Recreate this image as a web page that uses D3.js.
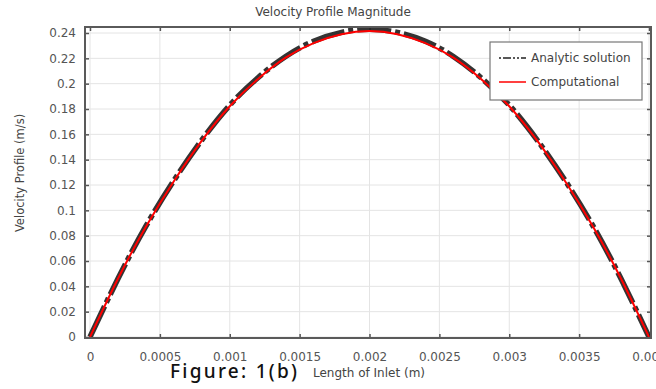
<!DOCTYPE html>
<html><head><meta charset="utf-8">
<script src="https://cdn.jsdelivr.net/npm/d3@7"></script>
<style>body{margin:0;background:#fff}svg{display:block}</style>
</head><body>
<svg id="c" width="656" height="389"></svg>
<script>
// Data
const xValues = [0,0.0002,0.0004,0.0006,0.0008,0.001,0.0012,0.0014,0.0016,0.0018,0.002,
                 0.0022,0.0024,0.0026,0.0028,0.003,0.0032,0.0034,0.0036,0.0038,0.004];
const analytic = [0,0.046,0.0875,0.1235,0.1555,0.183,0.2045,0.2215,0.2335,0.2405,0.243,
                  0.2405,0.2335,0.2215,0.2045,0.183,0.1555,0.1235,0.0875,0.046,0];
const computational = [0,0.046,0.087,0.123,0.155,0.1822,0.2035,0.2205,0.232,0.239,0.2415,
                  0.239,0.232,0.2205,0.2035,0.1822,0.155,0.123,0.087,0.046,0];
const xTicks = [0,0.0005,0.001,0.0015,0.002,0.0025,0.003,0.0035,0.004];
const xTickLabels = ["0","0.0005","0.001","0.0015","0.002","0.0025","0.003","0.0035","0.004"];
const yTicks = [0,0.02,0.04,0.06,0.08,0.1,0.12,0.14,0.16,0.18,0.2,0.22,0.24];
const yTickLabels = ["0","0.02","0.04","0.06","0.08","0.1","0.12","0.14","0.16","0.18","0.2","0.22","0.24"];
const seriesNames = ["Analytic solution","Computational"];

const svg = d3.select("#c");
const L=85, R=651, T=27, B=338;
const x = d3.scaleLinear().domain([0,0.004]).range([90,649]);
x.domain([x.invert(L), x.invert(R)]).range([L,R]);
const y = d3.scaleLinear().domain([0,0.24]).range([337,33]);
y.domain([y.invert(B), y.invert(T)]).range([B,T]);

const font = "DejaVu Sans, sans-serif";
const g = svg.append("g");

// grid
g.append("g").selectAll("line").data(xTicks).join("line")
  .attr("x1",d=>x(d)).attr("x2",d=>x(d)).attr("y1",T).attr("y2",B)
  .attr("stroke","#e4e4e4").attr("stroke-width",1);
g.append("g").selectAll("line").data(yTicks).join("line")
  .attr("y1",d=>y(d)).attr("y2",d=>y(d)).attr("x1",L).attr("x2",R)
  .attr("stroke","#e4e4e4").attr("stroke-width",1);

// axes via d3
const axStyle = sel => { sel.select(".domain").remove();
  sel.selectAll(".tick line").attr("stroke","#555").attr("stroke-width",1.5);
  sel.selectAll(".tick text").attr("fill","#555").style("font-family",font).style("font-size","12px"); };
svg.append("g").attr("transform",`translate(0,${B})`)
  .call(d3.axisBottom(x).tickValues(xTicks).tickFormat((d,i)=>xTickLabels[i]).tickSizeInner(-4).tickPadding(14))
  .call(axStyle);
svg.append("g").attr("transform",`translate(0,${T})`)
  .call(d3.axisTop(x).tickValues(xTicks).tickFormat("").tickSizeInner(-4))
  .call(axStyle);
svg.append("g").attr("transform",`translate(${L},0)`)
  .call(d3.axisLeft(y).tickValues(yTicks).tickFormat((d,i)=>yTickLabels[i]).tickSizeInner(-4).tickPadding(9))
  .call(axStyle);
svg.append("g").attr("transform",`translate(${R},0)`)
  .call(d3.axisRight(y).tickValues(yTicks).tickFormat("").tickSizeInner(-4))
  .call(axStyle);

// curves
svg.append("clipPath").attr("id","pc").append("rect")
  .attr("x",L).attr("y",T-3).attr("width",R-L).attr("height",B-T+3);
const line = vals => d3.line().x((d,i)=>x(xValues[i])).y(d=>y(d)).curve(d3.curveNatural)(vals);
svg.append("path").attr("d",line(analytic)).attr("fill","none")
  .attr("stroke","#1e1e1e").attr("stroke-width",5.5).attr("stroke-dasharray","34,4,5,4")
  .attr("opacity",0.9).attr("clip-path","url(#pc)");
svg.append("path").attr("d",line(computational)).attr("fill","none")
  .attr("stroke","#ff0000").attr("stroke-width",2).attr("clip-path","url(#pc)");

// frame
svg.append("rect").attr("x",L).attr("y",T).attr("width",R-L).attr("height",B-T)
  .attr("fill","none").attr("stroke","#5a5a5a").attr("stroke-width",2);

// legend
const lg = svg.append("g");
lg.append("rect").attr("x",490).attr("y",42).attr("width",152).attr("height",58)
  .attr("fill","#fff").attr("stroke","#777").attr("stroke-width",1.2);
lg.append("line").attr("x1",499).attr("x2",526).attr("y1",58).attr("y2",58)
  .attr("stroke","#222").attr("stroke-width",1.5).attr("stroke-dasharray","2,2,8,2,2,2");
lg.append("line").attr("x1",499).attr("x2",526).attr("y1",82).attr("y2",82)
  .attr("stroke","#ff0000").attr("stroke-width",1.5);
lg.selectAll("text").data(seriesNames).join("text")
  .attr("x",531).attr("y",(d,i)=>62+i*24).text(d=>d)
  .attr("fill","#444").style("font-family",font).style("font-size","12px");

// titles
svg.append("text").attr("x",333).attr("y",16).attr("text-anchor","middle")
  .text("Velocity Profile Magnitude").attr("fill","#444")
  .style("font-family",font).style("font-size","12px");
svg.append("text").attr("x",369).attr("y",377).attr("text-anchor","middle")
  .text("Length of Inlet (m)").attr("fill","#444")
  .style("font-family",font).style("font-size","12px");
svg.append("text").attr("transform","translate(24,173) rotate(-90)").attr("text-anchor","middle")
  .text("Velocity Profile (m/s)").attr("fill","#444")
  .style("font-family",font).style("font-size","11.5px");
svg.append("text").attr("x",170).attr("y",378)
  .text("Figure: 1(b)").attr("fill","#111").attr("textLength",127)
  .style("font-family","Noto Sans, sans-serif").style("font-size","19px").style("font-weight","500");
</script>
</body></html>
